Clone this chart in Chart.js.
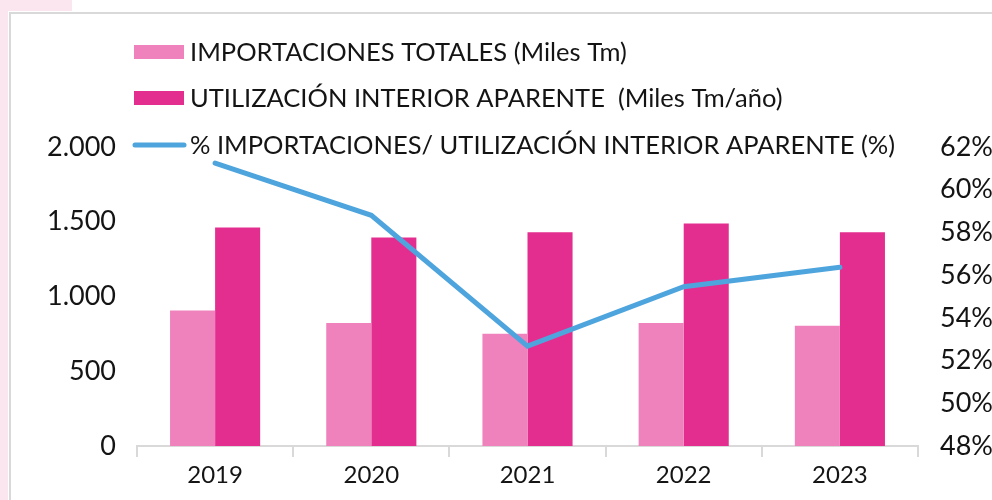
<!DOCTYPE html>
<html>
<head>
<meta charset="utf-8">
<script src="https://cdn.jsdelivr.net/npm/chart.js@4.4.1/dist/chart.umd.min.js"></script>
<style>
  html, body { margin: 0; padding: 0; background: #ffffff; }
  #wrap { position: relative; width: 992px; height: 500px; }
  canvas { display: block; }
</style>
</head>
<body>
<div id="wrap"><canvas id="c" width="992" height="500"></canvas></div>
<script>
const categories = ['2019', '2020', '2021', '2022', '2023'];
const importaciones = [907, 822, 751, 822, 805];
const utilizacion = [1462, 1395, 1429, 1489, 1429];
const porcentaje = [61.25, 58.8, 52.68, 55.46, 56.37];
const leftTicks = [0, 500, 1000, 1500, 2000];
const rightTicks = [48, 50, 52, 54, 56, 58, 60, 62];
const legendLabels = [
  'IMPORTACIONES TOTALES (Miles Tm)',
  'UTILIZACIÓN INTERIOR APARENTE  (Miles Tm/año)',
  '% IMPORTACIONES/ UTILIZACIÓN INTERIOR APARENTE (%)'
];

const COL_LIGHT = '#EF82BC';
const COL_DARK = '#E42E8F';
const COL_LINE = '#4EA5DE';
const FONT = 'Lato';
const TEXT = '#141414';

const bgPlugin = {
  id: 'bg',
  beforeDraw(chart) {
    const ctx = chart.ctx;
    ctx.save();
    ctx.fillStyle = '#ffffff';
    ctx.fillRect(0, 0, chart.width, chart.height);
    ctx.fillStyle = '#FBE5EE';
    ctx.fillRect(0, 0, 8, chart.height);
    ctx.fillRect(0, 0, 72, 11);
    ctx.strokeStyle = '#d9d9d9';
    ctx.lineWidth = 2;
    ctx.beginPath();
    ctx.moveTo(10, chart.height);
    ctx.lineTo(10, 13);
    ctx.lineTo(chart.width, 13);
    ctx.stroke();
    ctx.restore();
  }
};

const legendPlugin = {
  id: 'customLegend',
  afterDraw(chart) {
    const ctx = chart.ctx;
    ctx.save();
    ctx.font = '25.5px ' + FONT;
    ctx.textBaseline = 'middle';
    const rows = [52, 98, 145];
    ctx.fillStyle = COL_LIGHT;
    ctx.fillRect(134, 45, 50, 14);
    ctx.fillStyle = COL_DARK;
    ctx.fillRect(134, 91, 50, 14);
    ctx.strokeStyle = COL_LINE;
    ctx.lineWidth = 5;
    ctx.lineCap = 'round';
    ctx.beginPath();
    ctx.moveTo(135, rows[2]);
    ctx.lineTo(184, rows[2]);
    ctx.stroke();
    ctx.fillStyle = TEXT;
    legendLabels.forEach((t, i) => ctx.fillText(t, 190, rows[i] + 1));
    ctx.restore();
  }
};

new Chart(document.getElementById('c'), {
  type: 'bar',
  data: {
    labels: categories,
    datasets: [
      {
        type: 'line',
        label: legendLabels[2],
        data: porcentaje,
        yAxisID: 'y1',
        borderColor: COL_LINE,
        backgroundColor: COL_LINE,
        borderWidth: 5,
        pointRadius: 0,
        tension: 0,
        borderCapStyle: 'round',
        borderJoinStyle: 'miter',
        order: 0
      },
      {
        label: legendLabels[0],
        data: importaciones,
        backgroundColor: COL_LIGHT,
        yAxisID: 'y',
        categoryPercentage: 0.577,
        barPercentage: 1,
        order: 1
      },
      {
        label: legendLabels[1],
        data: utilizacion,
        backgroundColor: COL_DARK,
        yAxisID: 'y',
        categoryPercentage: 0.577,
        barPercentage: 1,
        order: 1
      }
    ]
  },
  options: {
    responsive: false,
    animation: false,
    layout: { padding: { top: 147, left: 0, right: 0, bottom: 0 } },
    plugins: { legend: { display: false }, tooltip: { enabled: false } },
    scales: {
      x: {
        grid: { display: true, drawOnChartArea: false, drawTicks: true, tickLength: 11, color: '#d9d9d9', lineWidth: 2, offset: true },
        border: { display: true, color: '#d9d9d9', width: 2 },
        ticks: { font: { family: FONT, size: 24 }, color: TEXT, padding: 4 },
        afterFit(s) { s.height = 54; }
      },
      y: {
        position: 'left',
        min: 0, max: 2000,
        afterBuildTicks(s) { s.ticks = leftTicks.map(v => ({ value: v })); },
        grid: { display: false },
        border: { display: false },
        ticks: {
          font: { family: FONT, size: 27 }, color: TEXT, padding: 13,
          callback: v => v.toLocaleString('de-DE')
        },
        afterFit(s) { s.width = 137; }
      },
      y1: {
        position: 'right',
        min: 48, max: 62,
        afterBuildTicks(s) { s.ticks = rightTicks.map(v => ({ value: v })); },
        grid: { display: false },
        border: { display: false },
        ticks: {
          font: { family: FONT, size: 27 }, color: TEXT, padding: 14,
          callback: v => v + '%'
        },
        afterFit(s) { s.width = 74; }
      }
    }
  },
  plugins: [bgPlugin, legendPlugin]
});
</script>
</body>
</html>
